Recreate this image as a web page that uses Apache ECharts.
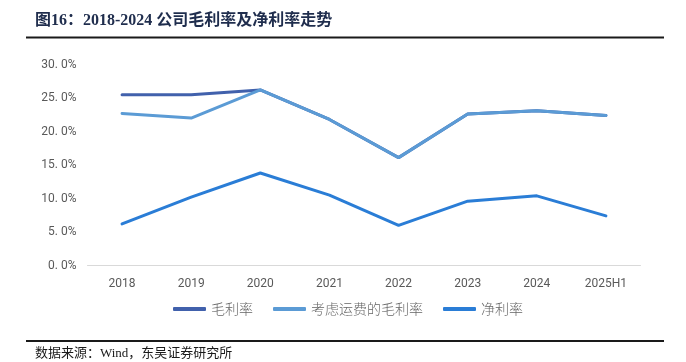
<!DOCTYPE html>
<html><head><meta charset="utf-8">
<script src="https://cdn.jsdelivr.net/npm/echarts@6/dist/echarts.min.js"></script>
<style>html,body{margin:0;padding:0;background:#fff}#c{width:686px;height:362px}</style>
</head><body><div id="c"></div>
<script>
const categories = ['2018','2019','2020','2021','2022','2023','2024','2025H1'];
const grossMargin = [25.5, 25.5, 26.2, 21.8, 16.1, 22.6, 23.1, 22.4];
const freightAdjMargin = [22.7, 22.0, 26.2, 21.8, 16.1, 22.6, 23.1, 22.4];
const netMargin = [6.2, 10.2, 13.8, 10.5, 6.0, 9.6, 10.4, 7.4];
const seriesNames = ['毛利率', '考虑运费的毛利率', '净利率'];
const titleText = '图16：2018-2024 公司毛利率及净利率走势';
const sourceText = '数据来源：Wind，东吴证券研究所';

const chart = echarts.init(document.getElementById('c'));
const colors = ['#4161AC', '#5B9BD5', '#2A7DD6'];
const mk = (name, data, i) => ({
  name, type: 'line', data, symbol: 'none', smooth: false,
  lineStyle: { width: 3, color: colors[i], cap: 'round' },
  itemStyle: { color: colors[i] }, z: 2 + i
});
chart.setOption({
  animation: false,
  graphic: [
    { type: 'text', left: 35, top: 13, style: { text: titleText, font: 'bold 16px "Liberation Serif", "Noto Sans CJK SC"', fill: '#1F2D4D' } },
    { type: 'rect', shape: { x: 26, y: 36.5, width: 638, height: 2 }, style: { fill: '#1a1a1a' } },
    { type: 'rect', shape: { x: 26, y: 340, width: 638, height: 2 }, style: { fill: '#1a1a1a' } },
    { type: 'text', left: 35, top: 347, style: { text: sourceText, font: '13px "Liberation Serif", "Noto Sans CJK SC"', fill: '#1a1a1a' } }
  ],
  legend: {
    data: seriesNames, left: 168, top: 297, itemWidth: 33, itemHeight: 4, itemGap: 20,
    icon: 'roundRect',
    textStyle: { color: '#666666', fontSize: 14, fontFamily: '"Noto Sans CJK SC"', fontWeight: 300 }
  },
  grid: { left: 87.5, right: 45.5, top: 64.5, bottom: 96.5 },
  xAxis: {
    type: 'category', data: categories, boundaryGap: true,
    axisLine: { lineStyle: { color: '#D9D9D9', width: 1 } },
    axisTick: { show: false },
    axisLabel: { color: '#595959', fontSize: 12, margin: 12, fontFamily: 'Roboto, "Noto Sans", sans-serif' }
  },
  yAxis: {
    type: 'value', min: 0, max: 30, interval: 5,
    axisLine: { show: false }, axisTick: { show: false }, splitLine: { show: false },
    axisLabel: { color: '#595959', fontSize: 12, margin: 11, fontFamily: 'Roboto, "Noto Sans", sans-serif',
      formatter: v => v.toFixed(1).replace('.', '. ') + '%' }
  },
  series: [mk(seriesNames[0], grossMargin, 0), mk(seriesNames[1], freightAdjMargin, 1), mk(seriesNames[2], netMargin, 2)]
});
</script></body></html>
